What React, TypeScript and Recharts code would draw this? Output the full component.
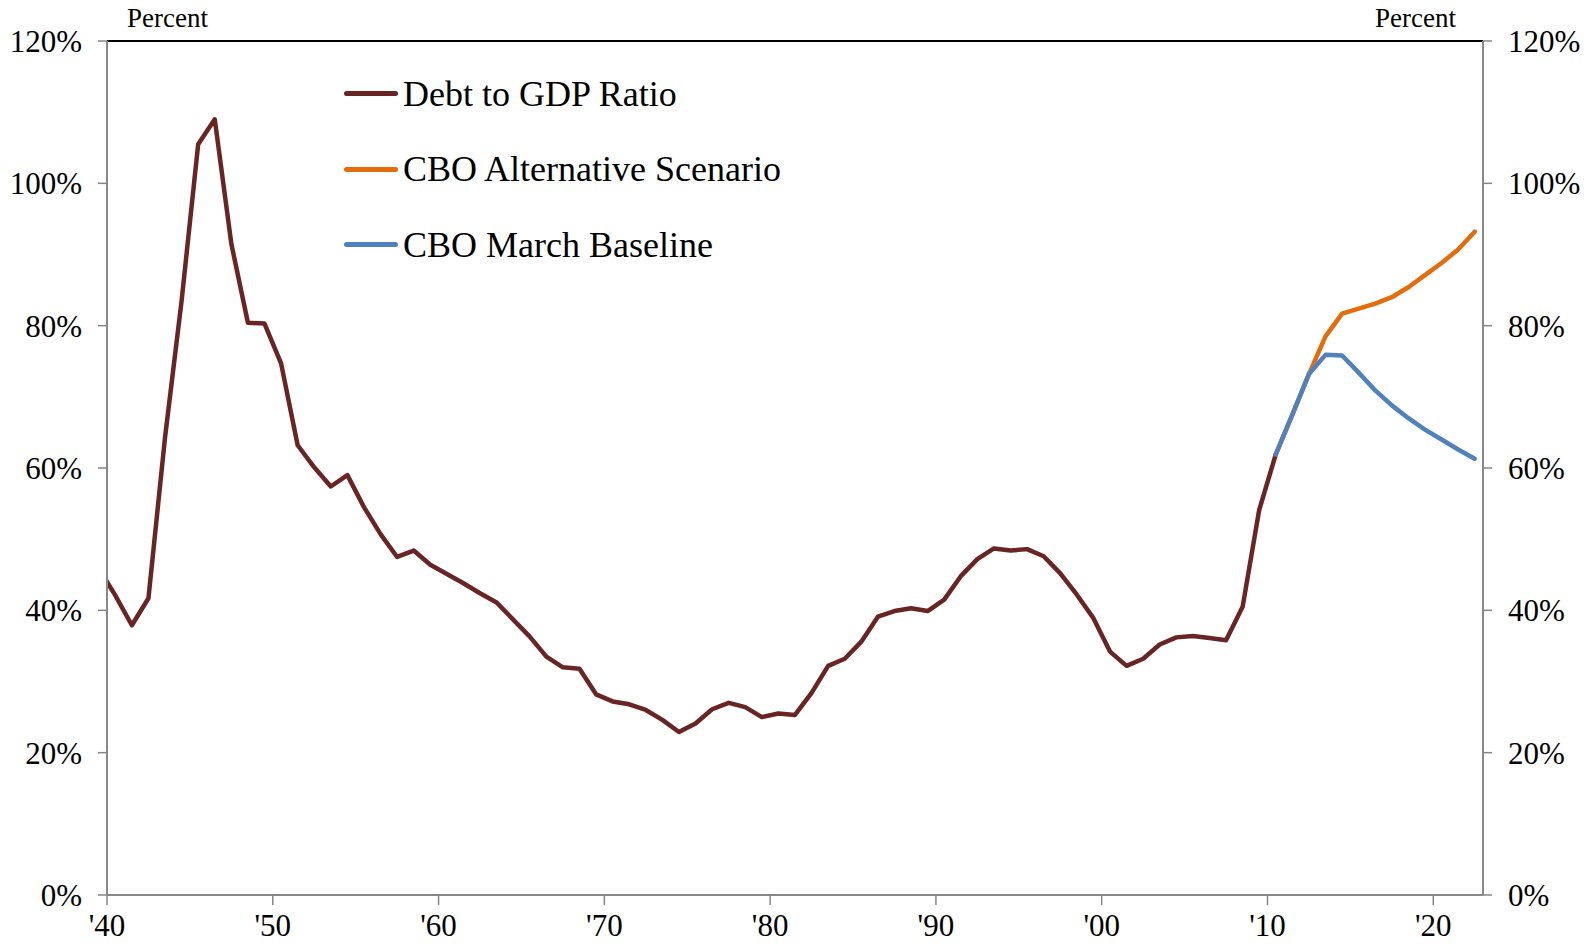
import { Legend, Line, LineChart, ReferenceLine, XAxis, YAxis } from "recharts";

// Fiscal years; each value sits in the middle of its year (Excel category style)
const years = [
  1939, 1940, 1941, 1942, 1943, 1944, 1945, 1946, 1947, 1948, 1949,
  1950, 1951, 1952, 1953, 1954, 1955, 1956, 1957, 1958, 1959,
  1960, 1961, 1962, 1963, 1964, 1965, 1966, 1967, 1968, 1969,
  1970, 1971, 1972, 1973, 1974, 1975, 1976, 1977, 1978, 1979,
  1980, 1981, 1982, 1983, 1984, 1985, 1986, 1987, 1988, 1989,
  1990, 1991, 1992, 1993, 1994, 1995, 1996, 1997, 1998, 1999,
  2000, 2001, 2002, 2003, 2004, 2005, 2006, 2007, 2008, 2009,
  2010, 2011, 2012, 2013, 2014, 2015, 2016, 2017, 2018, 2019,
  2020, 2021, 2022,
];

// Debt to GDP ratio, 1939-2010
const debtToGdp = [
  45.9, 42.1, 37.9, 41.7, 64.3, 83.5, 105.5, 109.0, 91.5, 80.4, 80.3,
  74.7, 63.2, 60.1, 57.4, 59.0, 54.5, 50.7, 47.5, 48.4, 46.4,
  45.1, 43.8, 42.4, 41.1, 38.7, 36.3, 33.5, 32.0, 31.8, 28.2,
  27.2, 26.8, 26.0, 24.6, 22.9, 24.1, 26.1, 27.0, 26.4, 25.0,
  25.5, 25.3, 28.4, 32.2, 33.2, 35.6, 39.1, 39.9, 40.3, 39.9,
  41.5, 44.8, 47.2, 48.7, 48.4, 48.6, 47.6, 45.2, 42.2, 38.9,
  34.2, 32.2, 33.2, 35.2, 36.2, 36.4, 36.1, 35.8, 40.5, 54.1,
  61.9,
];

// CBO projections, 2010-2022
const cboAlternative = [61.9, 67.5, 73.2, 78.5, 81.7, 82.4, 83.1, 84.0, 85.4, 87.1, 88.8, 90.7, 93.2];
const cboBaseline = [61.9, 67.5, 73.2, 75.9, 75.8, 73.4, 70.9, 68.8, 67.0, 65.4, 64.0, 62.6, 61.3];

const xTicks = [1940, 1950, 1960, 1970, 1980, 1990, 2000, 2010, 2020];
const yTicks = [0, 20, 40, 60, 80, 100, 120];

const legendItems = [
  { name: "Debt to GDP Ratio", color: "#692424" },
  { name: "CBO Alternative Scenario", color: "#E46C0A" },
  { name: "CBO March Baseline", color: "#4F81BD" },
];

const projStart = years.indexOf(2010);
const rows = years.map((y, i) => ({
  x: y + 0.5,
  debt: debtToGdp[i],
  alt: i >= projStart ? cboAlternative[i - projStart] : undefined,
  base: i >= projStart ? cboBaseline[i - projStart] : undefined,
}));

const FONT = '"Liberation Serif", "Times New Roman", serif';
const AXIS = "#878787";

function LegendBox() {
  return (
    <div style={{ fontFamily: FONT }}>
      {legendItems.map((it) => (
        <div
          key={it.name}
          style={{ display: "flex", alignItems: "center", height: 75.5 }}
        >
          <span
            style={{
              display: "inline-block",
              width: 54,
              height: 5,
              borderRadius: 3,
              background: it.color,
              marginRight: 5,
            }}
          />
          <span style={{ fontSize: 36, color: "#000", whiteSpace: "nowrap" }}>
            {it.name}
          </span>
        </div>
      ))}
    </div>
  );
}

export default function App() {
  const tickStyle = { fill: "#000", fontSize: 31, fontFamily: FONT };
  return (
    <div
      style={{
        position: "absolute",
        left: 0,
        top: 0,
        width: 1595,
        height: 949,
        background: "#fff",
        fontFamily: FONT,
      }}
    >
      <div style={{ position: "absolute", left: 127, top: 3, fontSize: 27 }}>
        Percent
      </div>
      <div style={{ position: "absolute", left: 1375, top: 3, fontSize: 27 }}>
        Percent
      </div>
      <LineChart
        width={1595}
        height={949}
        data={rows}
        margin={{ top: 41, right: 12, bottom: 14, left: 7 }}
      >
        <XAxis
          dataKey="x"
          type="number"
          domain={[1940, 2023]}
          allowDataOverflow
          ticks={xTicks}
          tickFormatter={(v: number) => "'" + String(v).slice(2)}
          tick={tickStyle}
          tickSize={10}
          tickMargin={9}
          height={40}
          axisLine={{ stroke: AXIS, strokeWidth: 2 }}
          tickLine={{ stroke: AXIS, strokeWidth: 1.5 }}
        />
        <YAxis
          yAxisId="left"
          domain={[0, 120]}
          ticks={yTicks}
          tickFormatter={(v: number) => `${v}%`}
          tick={tickStyle}
          tickSize={9}
          tickMargin={16}
          width={100}
          axisLine={{ stroke: AXIS, strokeWidth: 2 }}
          tickLine={{ stroke: AXIS, strokeWidth: 1.5 }}
        />
        <YAxis
          yAxisId="right"
          orientation="right"
          domain={[0, 120]}
          ticks={yTicks}
          tickFormatter={(v: number) => `${v}%`}
          tick={tickStyle}
          tickSize={9}
          tickMargin={16}
          width={100}
          axisLine={{ stroke: AXIS, strokeWidth: 2 }}
          tickLine={{ stroke: AXIS, strokeWidth: 1.5 }}
        />
        <ReferenceLine yAxisId="left" y={120} stroke="#000" strokeWidth={2} />
        <Legend
          layout="vertical"
          align="center"
          verticalAlign="middle"
          content={() => <LegendBox />}
          wrapperStyle={{ left: 344, top: 56, width: 600, height: 230 }}
        />
        <Line
          yAxisId="left"
          type="linear"
          dataKey="debt"
          stroke="#692424"
          strokeWidth={4.5}
          strokeLinejoin="round"
          strokeLinecap="round"
          dot={false}
          activeDot={false}
          isAnimationActive={false}
        />
        <Line
          yAxisId="left"
          type="linear"
          dataKey="alt"
          stroke="#E46C0A"
          strokeWidth={4.5}
          strokeLinejoin="round"
          strokeLinecap="round"
          dot={false}
          activeDot={false}
          isAnimationActive={false}
        />
        <Line
          yAxisId="right"
          type="linear"
          dataKey="base"
          stroke="#4F81BD"
          strokeWidth={4.5}
          strokeLinejoin="round"
          strokeLinecap="round"
          dot={false}
          activeDot={false}
          isAnimationActive={false}
        />
      </LineChart>
    </div>
  );
}
